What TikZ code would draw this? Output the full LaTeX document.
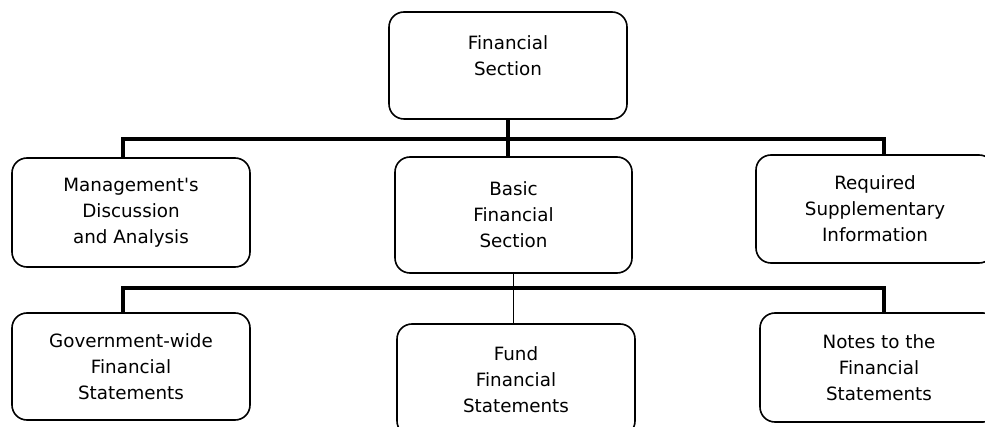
\documentclass[tikz,border=0pt]{standalone}
\usepackage{fontspec}
\setmainfont{DejaVu Sans}
\usetikzlibrary{positioning}

\begin{document}
\begin{tikzpicture}[
    x=1pt, y=-1pt,
    box/.style={draw=black, line width=1.6pt, rounded corners=15pt, align=center,
        minimum width=238pt, minimum height=108pt, inner sep=2pt,
        font=\fontsize{18.3}{26}\selectfont},
    bar/.style={line width=3.5pt},
    link/.style={line width=1.5pt},
]
\useasboundingbox (0,0) rectangle (985,427);

% Top
\node[box, minimum height=107pt] (fin) at (508, 65.5) {Financial\\Section\\[-6pt]\mbox{}};

% Second row
\node[box, minimum height=109pt] (mda) at (131, 212.5) {Management\textquotesingle s\\Discussion\\and Analysis};
\node[box, minimum width=237pt, minimum height=116pt] (bfs) at (513.5, 215) {Basic\\Financial\\Section};
\node[box] (rsi) at (875, 209) {Required\\Supplementary\\Information};

% Third row
\node[box, minimum height=107pt] (gwfs) at (131, 366.5) {Government-wide\\Financial\\Statements};
\node[box, minimum height=112pt] (ffs) at (516, 380) {Fund\\Financial\\Statements};
\node[box, minimum height=109pt] (notes) at (879, 367.5) {Notes to the\\Financial\\Statements};

% Upper bar
\coordinate (u1) at (123, 139);
\coordinate (u2) at (884, 139);
\draw[bar] (u1 |- mda.north) -- (u1) -- (u2) -- (u2 |- rsi.north);
\draw[bar] (fin.south) -- (fin.south |- bfs.north);

% Lower bar
\coordinate (l1) at (123, 288);
\coordinate (l2) at (884, 288);
\draw[bar] (l1 |- gwfs.north) -- (l1) -- (l2) -- (l2 |- notes.north);
\draw[link] (bfs.south) -- (bfs.south |- ffs.north);

\end{tikzpicture}
\end{document}
